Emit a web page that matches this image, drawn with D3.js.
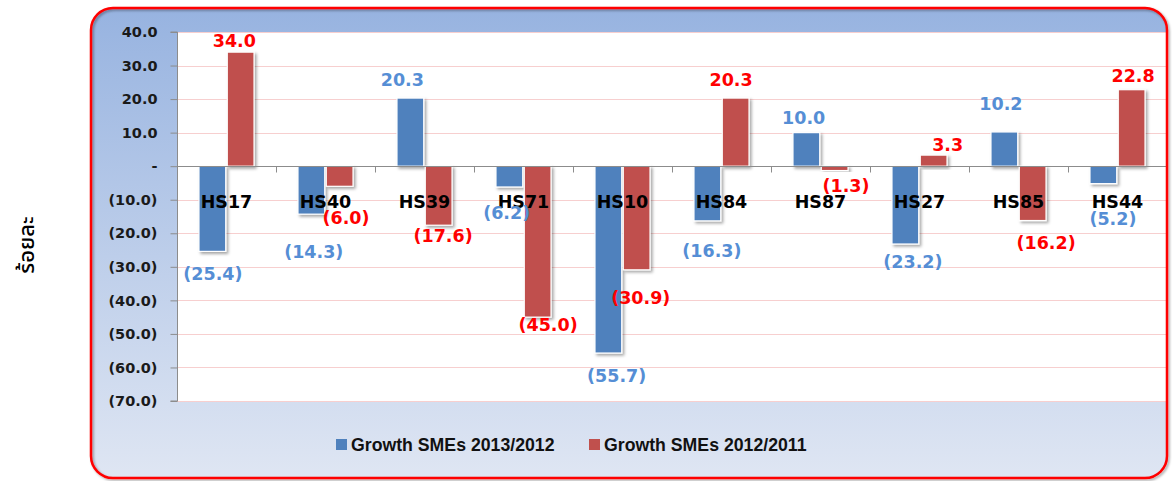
<!DOCTYPE html>
<html>
<head>
<meta charset="utf-8">
<script src="https://cdn.jsdelivr.net/npm/d3@7"></script>
<style>
  html, body { margin: 0; padding: 0; background: #ffffff; }
  svg { display: block; }
</style>
</head>
<body>
<svg id="chart" width="1172" height="481"></svg>
<script>
// ---------------- data ----------------
const categories = ["HS17", "HS40", "HS39", "HS71", "HS10", "HS84", "HS87", "HS27", "HS85", "HS44"];
const seriesNames = ["Growth SMEs 2013/2012", "Growth SMEs 2012/2011"];
const growth2013 = [-25.4, -14.3, 20.3, -6.2, -55.7, -16.3, 10.0, -23.2, 10.2, -5.2];
const growth2012 = [34.0, -6.0, -17.6, -45.0, -30.9, 20.3, -1.3, 3.3, -16.2, 22.8];
const yTicks = [40, 30, 20, 10, 0, -10, -20, -30, -40, -50, -60, -70];
const yTitle = "ร้อยละ";

// ---------------- layout / style ----------------
const W = 1172, H = 481;
const plot = { left: 177, right: 1166, top: 32, bottom: 401 };
const colors = ["#4F81BD", "#C0504D"];
const labelColors = ["#558ED5", "#FF0000"];
// manual data-label offsets (px) from bar end, as placed in the original
const labelOffsets = [
  [[0.6, 22.6], [2.4, 37.8], [-8, -18], [-2.7, 26], [8.3, 23], [4.6, 30], [-2.7, -14.7], [7.6, 18], [-3.4, -28], [9.6, 35.4]],
  [[-6.3, -11.2], [6.4, 31.2], [4.4, 10.8], [10.4, 8], [4.1, 28], [-4.6, -18], [11.4, 15], [14, -10], [13.4, 22.5], [1.4, -13.7]]
];

const fmt = v => v === 0 ? "-" : (v < 0 ? "(" + Math.abs(v).toFixed(1) + ")" : v.toFixed(1));

const svg = d3.select("#chart");
const defs = svg.append("defs");

const grad = defs.append("linearGradient").attr("id", "bg").attr("x1", 0).attr("y1", 0).attr("x2", 0).attr("y2", 1);
grad.append("stop").attr("offset", "0%").attr("stop-color", "#97b3e0");
grad.append("stop").attr("offset", "100%").attr("stop-color", "#dfe6f3");

const sh = defs.append("filter").attr("id", "shadow").attr("x", "-30%").attr("y", "-30%").attr("width", "160%").attr("height", "160%");
sh.append("feDropShadow").attr("dx", 2).attr("dy", 2).attr("stdDeviation", 1.6)
  .attr("flood-color", "#000").attr("flood-opacity", 0.35);

const bsh = defs.append("filter").attr("id", "bshadow").attr("x", "-5%").attr("y", "-5%").attr("width", "110%").attr("height", "110%");
bsh.append("feDropShadow").attr("dx", 1.5).attr("dy", 1.5).attr("stdDeviation", 1)
  .attr("flood-color", "#000").attr("flood-opacity", 0.35);

const clip = defs.append("clipPath").attr("id", "frameClip");
clip.append("rect").attr("x", 91).attr("y", 8).attr("width", 1076).attr("height", 470).attr("rx", 22).attr("ry", 22);

// chart frame background
svg.append("rect")
  .attr("x", 91).attr("y", 8).attr("width", 1076).attr("height", 470)
  .attr("rx", 22).attr("ry", 22)
  .attr("fill", "url(#bg)");

const inner = svg.append("g").attr("clip-path", "url(#frameClip)");

// plot area
inner.append("rect")
  .attr("x", plot.left).attr("y", plot.top)
  .attr("width", plot.right - plot.left).attr("height", plot.bottom - plot.top)
  .attr("fill", "#ffffff");

// scales
const y = d3.scaleLinear().domain([-70, 40]).range([plot.bottom, plot.top]);
const x0 = d3.scaleBand().domain(categories).range([plot.left, plot.right + 1])
  .paddingInner(0.444).paddingOuter(0.222);
const x1 = d3.scaleBand().domain([0, 1]).range([0, x0.bandwidth()]).paddingInner(0.055);

// gridlines
inner.append("g").selectAll("line").data(yTicks.filter(t => t !== 0)).join("line")
  .attr("x1", plot.left).attr("x2", plot.right)
  .attr("y1", d => Math.round(y(d)) + 0.5).attr("y2", d => Math.round(y(d)) + 0.5)
  .attr("stroke", "#f7cfcf").attr("stroke-width", 1);

// y axis
const yAxis = d3.axisLeft(y).tickValues(yTicks).tickFormat(fmt).tickSize(7).tickPadding(13);
const gy = svg.append("g").attr("transform", `translate(${plot.left + 0.5},0)`).call(yAxis);
gy.select(".domain").attr("stroke", "#8c8c8c").attr("d", `M-7,${y(40)}H0V${y(-70)}H-7`);
gy.selectAll(".tick line").attr("stroke", "#8c8c8c");
gy.selectAll(".tick text")
  .attr("fill", "#1a1a1a")
  .style("font-family", "'DejaVu Sans', sans-serif")
  .style("font-weight", "bold")
  .style("font-size", "14.5px");

// bars
const series = [growth2013, growth2012];
const barsG = inner.append("g");
series.forEach((vals, s) => {
  barsG.append("g").selectAll("rect").data(vals).join("rect")
    .attr("x", (d, i) => x0(categories[i]) + x1(s))
    .attr("y", d => y(Math.max(0, d)))
    .attr("width", x1.bandwidth())
    .attr("height", d => Math.abs(y(d) - y(0)))
    .attr("fill", colors[s])
    .attr("stroke", "#ffffff").attr("stroke-width", 1.2)
    .attr("filter", "url(#shadow)");
});

// zero (category) axis line + ticks
const zeroY = Math.round(y(0)) + 0.5;
inner.append("line")
  .attr("x1", plot.left).attr("x2", plot.right)
  .attr("y1", zeroY).attr("y2", zeroY)
  .attr("stroke", "#8c8c8c").attr("stroke-width", 1);
inner.append("g").selectAll("line").data(categories).join("line")
  .attr("x1", d => Math.round(x0(d) + x0.bandwidth() / 2 + x0.step() / 2) + 0.5)
  .attr("x2", d => Math.round(x0(d) + x0.bandwidth() / 2 + x0.step() / 2) + 0.5)
  .attr("y1", zeroY).attr("y2", zeroY + 6)
  .attr("stroke", "#8c8c8c").attr("stroke-width", 1);

// category labels
svg.append("g").selectAll("text").data(categories).join("text")
  .attr("x", d => x0(d) + x0.bandwidth() / 2)
  .attr("y", 208)
  .attr("text-anchor", "middle")
  .attr("fill", "#000")
  .style("font-family", "'DejaVu Sans', sans-serif")
  .style("font-weight", "bold")
  .style("font-size", "17.5px")
  .text(d => d);

// data labels
series.forEach((vals, s) => {
  svg.append("g").selectAll("text").data(vals).join("text")
    .attr("x", (d, i) => x0(categories[i]) + x1(s) + x1.bandwidth() / 2 + labelOffsets[s][i][0])
    .attr("y", (d, i) => y(d) + labelOffsets[s][i][1])
    .attr("dy", "0.35em")
    .attr("text-anchor", "middle")
    .attr("fill", labelColors[s])
    .style("font-family", "'DejaVu Sans', sans-serif")
    .style("font-weight", "bold")
    .style("font-size", "17.5px")
    .text(d => fmt(d));
});

// legend
const legend = svg.append("g");
const legendX = [336, 589];
seriesNames.forEach((name, s) => {
  legend.append("rect").attr("x", legendX[s]).attr("y", 439).attr("width", 11).attr("height", 11)
    .attr("fill", colors[s]);
  legend.append("text").attr("x", legendX[s] + 15).attr("y", 450.5)
    .attr("fill", "#111")
    .style("font-family", "'Liberation Sans', Arial, sans-serif")
    .style("font-weight", "bold")
    .style("font-size", "17.7px")
    .text(name);
});

// frame border
svg.append("rect")
  .attr("x", 91).attr("y", 8).attr("width", 1076).attr("height", 470)
  .attr("rx", 22).attr("ry", 22)
  .attr("fill", "none")
  .attr("stroke", "#ff0000").attr("stroke-width", 2.5)
  .attr("filter", "url(#bshadow)");

// y axis title
svg.append("text")
  .attr("transform", "translate(34,245) rotate(-90)")
  .attr("text-anchor", "middle")
  .attr("fill", "#000")
  .style("font-family", "'Noto Sans Thai', 'Noto Sans', 'DejaVu Sans', sans-serif")
  .style("font-size", "22px")
  .style("font-weight", "500")
  .text(yTitle);
</script>
</body>
</html>
